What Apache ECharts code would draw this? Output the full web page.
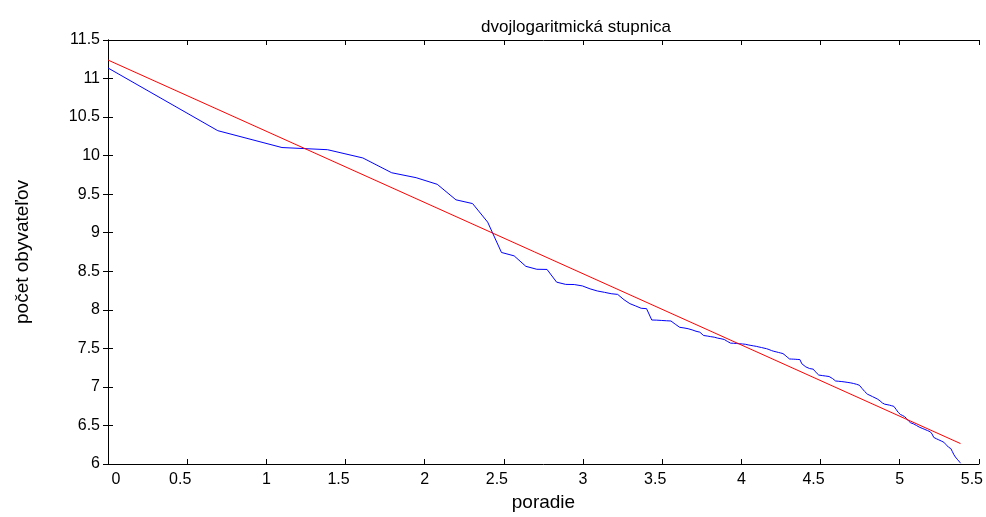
<!DOCTYPE html>
<html>
<head>
<meta charset="utf-8">
<script src="https://cdn.jsdelivr.net/npm/echarts@6/dist/echarts.min.js"></script>
<style>html,body{margin:0;padding:0;background:#fff;}#c{width:986px;height:517px;}</style>
</head>
<body>
<div id="c"></div>
<script>
// Title and axis labels
const titleText = 'dvojlogaritmická stupnica';
const xName = 'poradie';
const yName = 'počet obyvateľov';

// Blue series: log of population by rank (rank 1..218), x = ln(rank)
const ranks = [];
for (let k = 1; k <= 218; k++) ranks.push(k);
const logPop = [
  11.137, 10.324, 10.105, 10.077, 9.97, 9.778, 9.714, 9.628, 9.427, 9.378,
  9.137, 8.744, 8.70, 8.564, 8.526, 8.524, 8.359, 8.33, 8.328, 8.31,
  8.272, 8.244, 8.227, 8.209, 8.20, 8.132, 8.08, 8.05, 8.02, 8.015,
  7.868, 7.866, 7.862, 7.858, 7.855, 7.812, 7.773, 7.765, 7.755, 7.74,
  7.722, 7.71, 7.667, 7.66, 7.652, 7.645, 7.633, 7.625, 7.615, 7.59,
  7.568, 7.566, 7.563, 7.56, 7.557, 7.553, 7.545, 7.538, 7.532, 7.526,
  7.518, 7.511, 7.503, 7.496, 7.485, 7.472, 7.462, 7.455, 7.447, 7.44,
  7.432, 7.41, 7.385, 7.363, 7.361, 7.36, 7.358, 7.356, 7.355, 7.30,
  7.28, 7.26, 7.24, 7.238, 7.235, 7.23, 7.20, 7.175, 7.154, 7.15,
  7.147, 7.144, 7.141, 7.138, 7.135, 7.132, 7.11, 7.09, 7.077, 7.075,
  7.073, 7.071, 7.069, 7.067, 7.064, 7.061, 7.058, 7.055, 7.052, 7.048,
  7.044, 7.04, 7.034, 7.028, 7.022, 7.00, 6.98, 6.96, 6.94, 6.92,
  6.906, 6.898, 6.89, 6.882, 6.874, 6.866, 6.858, 6.85, 6.842, 6.833,
  6.82, 6.806, 6.792, 6.778, 6.776, 6.773, 6.77, 6.767, 6.764, 6.76,
  6.756, 6.752, 6.748, 6.73, 6.71, 6.69, 6.67, 6.65, 6.643, 6.636,
  6.63, 6.622, 6.615, 6.607, 6.59, 6.573, 6.557, 6.542, 6.535, 6.53,
  6.525, 6.52, 6.514, 6.508, 6.50, 6.492, 6.485, 6.478, 6.473, 6.468,
  6.463, 6.458, 6.453, 6.448, 6.443, 6.438, 6.433, 6.428, 6.423, 6.418,
  6.414, 6.39, 6.365, 6.345, 6.337, 6.333, 6.328, 6.323, 6.318, 6.313,
  6.308, 6.303, 6.298, 6.293, 6.288, 6.283, 6.278, 6.265, 6.25, 6.235,
  6.225, 6.218, 6.21, 6.205, 6.20, 6.18, 6.16, 6.14, 6.12, 6.105,
  6.09, 6.075, 6.065, 6.055, 6.045, 6.035, 6.022, 6.01
];

// Red fitted line: endpoints (ln rank, log population)
const fitX = [0, 5.384];
const fitY = [11.24, 6.265];

// Axis ticks
const xMin = 0, xMax = 5.5, xStep = 0.5;
const yMin = 6, yMax = 11.5, yStep = 0.5;

const blueData = ranks.map((r, i) => [Math.log(r), logPop[i]]);
const redData = fitX.map((x, i) => [x, fitY[i]]);

const font = 'Liberation Sans, Arial, sans-serif';
const axisCommon = {
  axisLine: { show: true, lineStyle: { color: '#000', width: 1 } },
  axisTick: { show: true, inside: true, length: 5, lineStyle: { color: '#000' } },
  splitLine: { show: false }
};

const chart = echarts.init(document.getElementById('c'), null, { renderer: 'canvas' });
chart.setOption({
  animation: false,
  backgroundColor: '#fff',
  title: {
    text: titleText, left: 571, top: 14, textAlign: 'center',
    textStyle: { fontFamily: font, fontSize: 17, fontWeight: 'normal', color: '#000' }
  },
  grid: { left: 108, top: 40, right: 6, bottom: 48, containLabel: false },
  xAxis: [
    Object.assign({
      type: 'value', min: xMin, max: xMax, interval: xStep, position: 'bottom',
      name: xName, nameLocation: 'middle', nameGap: 29,
      nameTextStyle: { fontFamily: font, fontSize: 19, color: '#000' },
      axisLabel: {
        fontFamily: font, fontSize: 16, color: '#000', margin: 8,
        formatter: function (v) {
          if (v === 0) return '{z|0}';
          if (Math.abs(v % 1) > 0.01) return '{h|' + v + '}';
          return '{n|' + v + '}';
        },
        rich: {
          z: { fontFamily: font, fontSize: 16, color: '#000', padding: [0, 0, 0, 16] },
          h: { fontFamily: font, fontSize: 16, color: '#000', padding: [0, 14, 0, 0] },
          n: { fontFamily: font, fontSize: 16, color: '#000' }
        }
      }
    }, axisCommon),
    Object.assign({
      type: 'value', min: xMin, max: xMax, interval: xStep, position: 'top',
      axisLabel: { show: false }
    }, axisCommon)
  ],
  yAxis: [
    Object.assign({
      type: 'value', min: yMin, max: yMax, interval: yStep, position: 'left',
      name: yName, nameLocation: 'middle', nameGap: 76,
      nameTextStyle: { fontFamily: font, fontSize: 19, color: '#000' },
      axisLabel: { fontFamily: font, fontSize: 16, color: '#000', margin: 8 }
    }, axisCommon),
    Object.assign({
      type: 'value', min: yMin, max: yMax, interval: yStep, position: 'right',
      axisLabel: { show: false }
    }, axisCommon)
  ],
  series: [
    {
      type: 'line', name: 'data', data: blueData, showSymbol: false,
      lineStyle: { color: '#0000ff', width: 1 }, itemStyle: { color: '#0000ff' },
      xAxisIndex: 0, yAxisIndex: 0
    },
    {
      type: 'line', name: 'fit', data: redData, showSymbol: false,
      lineStyle: { color: '#ff0000', width: 1 }, itemStyle: { color: '#ff0000' },
      xAxisIndex: 0, yAxisIndex: 0
    }
  ]
});
</script>
</body>
</html>
